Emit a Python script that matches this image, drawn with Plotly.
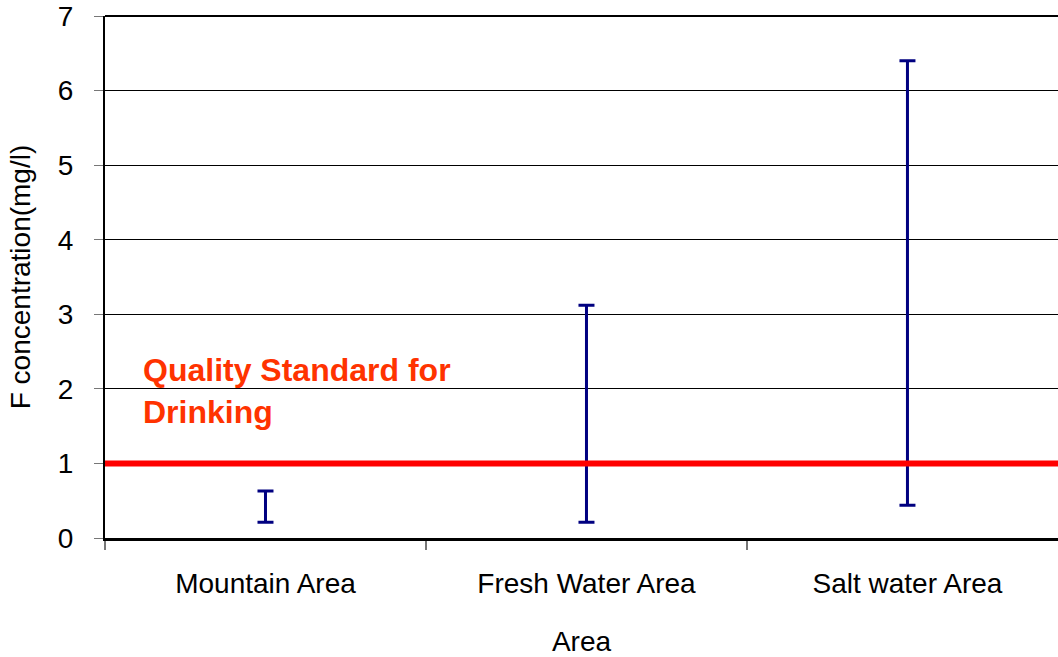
import plotly.graph_objects as go

categories = ["Mountain Area", "Fresh Water Area", "Salt water Area"]
low_values = [0.21, 0.21, 0.44]
high_values = [0.63, 3.12, 6.40]
standard_value = 1.0
y_ticks = [0, 1, 2, 3, 4, 5, 6, 7]

mid = [(lo + hi) / 2 for lo, hi in zip(low_values, high_values)]
half = [(hi - lo) / 2 for lo, hi in zip(low_values, high_values)]

FONT = "Liberation Sans, Arial, sans-serif"

fig = go.Figure()
fig.add_trace(go.Scatter(
    x=categories, y=mid, mode="markers",
    marker=dict(size=1, color="rgba(0,0,0,0)"),
    error_y=dict(type="data", array=half, symmetric=True,
                 color="#000080", thickness=3, width=8),
    showlegend=False, hoverinfo="skip",
))

fig.add_shape(type="line", xref="paper", yref="y", x0=0, x1=1,
              y0=standard_value, y1=standard_value,
              line=dict(color="#FF0000", width=6), layer="above")
fig.add_shape(type="line", xref="paper", yref="paper", x0=0, x1=1,
              y0=1, y1=1, line=dict(color="black", width=2), layer="above")

fig.add_annotation(xref="paper", yref="y", x=0.0378, y=2.52,
                   xanchor="left", yanchor="top", align="left",
                   text="<b>Quality Standard for<br>Drinking</b>",
                   showarrow=False,
                   font=dict(family=FONT, size=32, color="#FF3300"))

fig.update_layout(
    width=1058, height=657,
    margin=dict(l=105, r=0, t=16, b=119),
    paper_bgcolor="white", plot_bgcolor="white",
    font=dict(family=FONT, size=28, color="black"),
    hovermode=False,
    xaxis=dict(
        type="category", range=[-0.5, 2.469],
        tickson="boundaries", ticks="outside", ticklen=9, tickcolor="#777777",
        tickwidth=2,
        showline=True, linecolor="black", linewidth=3,
        showgrid=False, ticklabelstandoff=18,
        title=dict(text="Area", standoff=36, font=dict(size=28)),
    ),
    yaxis=dict(
        range=[0, 7], tickvals=y_ticks, ticks="outside", ticklen=9,
        tickcolor="#777777", tickwidth=1,
        showline=True, linecolor="black", linewidth=2,
        showgrid=True, gridcolor="black", gridwidth=1,
        zeroline=False, ticklabelstandoff=15, ticklabeloverflow="allow",
        automargin=False,
        title=dict(text="F concentration(mg/l)", standoff=19, font=dict(size=28)),
    ),
)

fig.write_html("out.html",
               config={"displayModeBar": False},
               post_script="document.body.style.margin='0';document.body.style.overflow='hidden';")
